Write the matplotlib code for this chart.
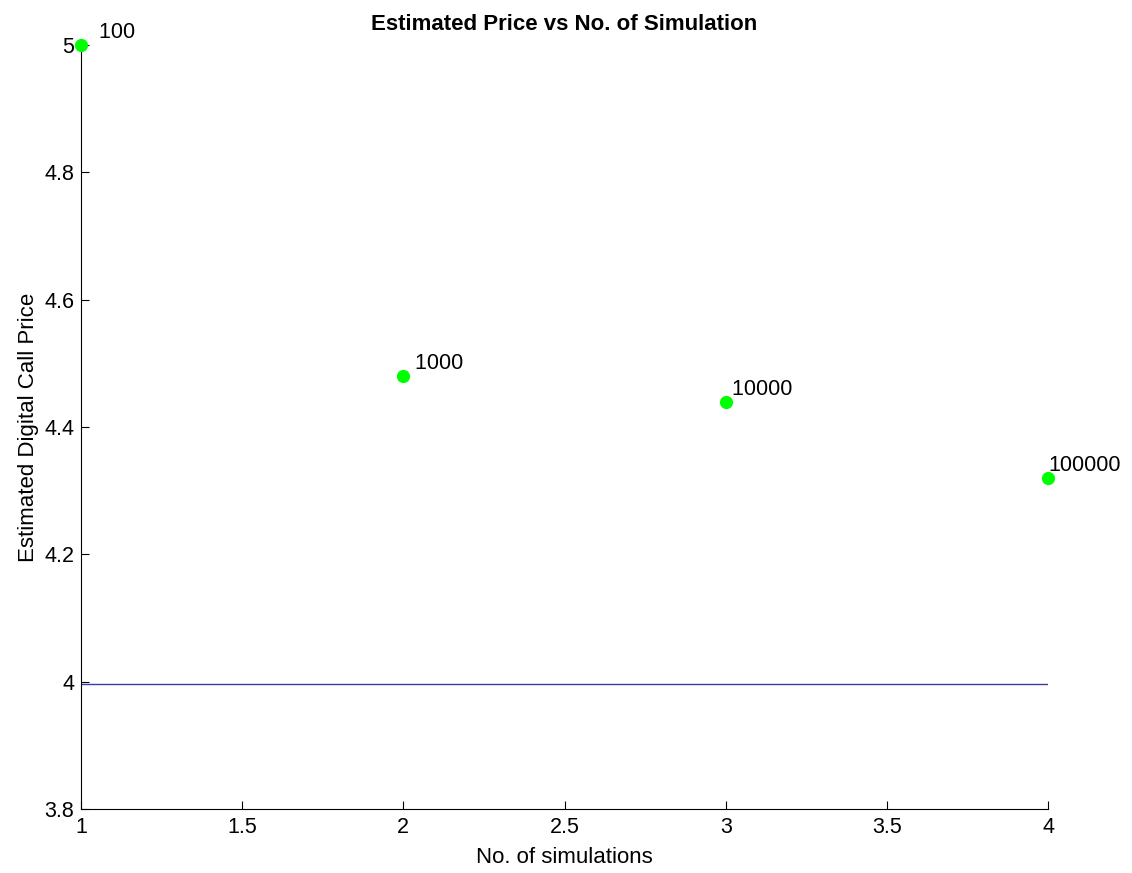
import matplotlib
matplotlib.use("Agg")
import matplotlib.pyplot as plt

x_vals = [1, 2, 3, 4]
prices = [5.0, 4.48, 4.44, 4.32]
labels = ["100", "1000", "10000", "100000"]
true_price = 3.997

plt.rcParams['font.family'] = ['Liberation Sans', 'DejaVu Sans']

fig = plt.figure(figsize=(11.32, 8.73), dpi=100)
ax = fig.add_axes([0.0716, 0.0733, 0.8542, 0.8752])

ax.plot(x_vals, [true_price] * len(x_vals), color='#3a3aa0', lw=1.0)
ax.plot(x_vals, prices, linestyle='none', marker='o', color='#00ff00',
        markersize=8.5, clip_on=False, zorder=5)
width = max(len(s) for s in labels)
for xv, yv, lab in zip(x_vals, prices, labels):
    ax.annotate(lab.rjust(width), (xv, yv), xytext=(0, 7), textcoords='offset pixels',
                fontsize=15.5, ha='left', va='baseline', annotation_clip=False)

ax.set_xlim(1, 4)
ax.set_ylim(3.8, 5.0)
ax.set_xticks([1, 1.5, 2, 2.5, 3, 3.5, 4])
ax.set_xticklabels(['1', '1.5', '2', '2.5', '3', '3.5', '4'])
ax.set_yticks([3.8, 4.0, 4.2, 4.4, 4.6, 4.8, 5.0])
ax.set_yticklabels(['3.8', '4', '4.2', '4.4', '4.6', '4.8', '5'])
ax.tick_params(direction='in', length=6, labelsize=15.5, width=0.8)
ax.tick_params(axis='x', pad=6)
ax.tick_params(axis='y', pad=5)
ax.spines['top'].set_visible(False)
ax.spines['right'].set_visible(False)
ax.set_xlabel('No. of simulations', fontsize=16, labelpad=6)
ax.set_ylabel('Estimated Digital Call Price', fontsize=16, labelpad=4)
ax.set_title('Estimated Price vs No. of Simulation', fontsize=16, fontweight='bold', pad=11)

fig.savefig('out.png', dpi=100)
